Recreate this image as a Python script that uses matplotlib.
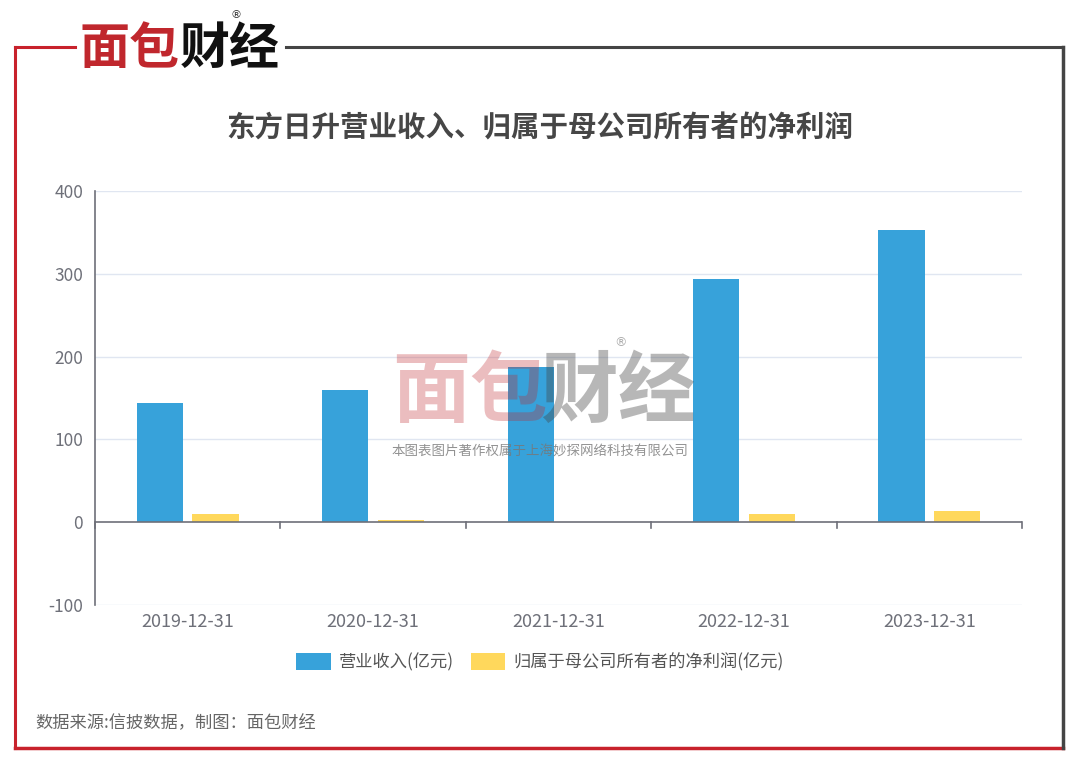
import matplotlib
matplotlib.use("Agg")
import matplotlib.pyplot as plt
import numpy as np
from matplotlib.lines import Line2D
from matplotlib.patches import Patch

plt.rcParams['font.family'] = ['Noto Sans CJK SC', 'DejaVu Sans']

categories = ["2019-12-31", "2020-12-31", "2021-12-31", "2022-12-31", "2023-12-31"]
revenue = [144, 160, 188, 294, 353]
net_profit = [10, 2.5, 0.3, 10, 14]
series_names = ["营业收入(亿元)", "归属于母公司所有者的净利润(亿元)"]
title = "东方日升营业收入、归属于母公司所有者的净利润"
yticks = [-100, 0, 100, 200, 300, 400]
source = "数据来源:信披数据，制图：面包财经"

W, H = 1080, 764
fig = plt.figure(figsize=(W / 100, H / 100), dpi=100)
fig.patch.set_facecolor("white")

def fx(x):
    return x / W

def fy(y):
    return 1 - y / H

# Frame
red = "#c8222c"
dark = "#444444"
fig.add_artist(Line2D([fx(15), fx(15)], [fy(47), fy(748)], color=red, lw=2.2))
fig.add_artist(Line2D([fx(15), fx(1063)], [fy(748), fy(748)], color=red, lw=2.5))
fig.add_artist(Line2D([fx(15), fx(75)], [fy(47), fy(47)], color=red, lw=2.2))
fig.add_artist(Line2D([fx(286), fx(1063)], [fy(47), fy(47)], color=dark, lw=2.2))
fig.add_artist(Line2D([fx(1063), fx(1063)], [fy(47), fy(748)], color=dark, lw=2.5))

# Logo
fig.text(fx(80), fy(49), "面包", color="#c0272d", fontsize=36, fontweight="bold",
         ha="left", va="center")
fig.text(fx(180), fy(49), "财经", color="#111111", fontsize=36, fontweight="bold",
         ha="left", va="center")
fig.text(fx(236), fy(15), "®", color="#333333", fontsize=8, ha="center", va="center",
         family=["DejaVu Sans"])

# Title
fig.text(0.5, fy(128), title, ha="center", va="center", fontsize=20.5,
         fontweight="bold", color="#464646")

# Axes
ax = fig.add_axes([fx(95), fy(605), fx(1022) - fx(95), (605 - 191) / H])
x = np.arange(len(categories))
bw = 0.25
ax.bar(x - 0.15, revenue, width=bw, color="#37a2da", zorder=3, label=series_names[0])
ax.bar(x + 0.15, net_profit, width=bw, color="#ffd85c", zorder=3, label=series_names[1])

ax.set_xlim(-0.5, len(categories) - 0.5)
ax.set_ylim(-100, 400)
ax.set_yticks(yticks)
ax.set_yticklabels([str(v) for v in yticks])
for v in yticks:
    if v != 0:
        ax.axhline(v, color="#e0e6f1", lw=1, zorder=1)
ax.axhline(0, color="#6e7079", lw=1.2, zorder=4)
for b in np.arange(-0.5, len(categories), 1.0):
    ax.plot([b, b], [0, -7], color="#6e7079", lw=1.2, zorder=4, clip_on=False)

for s in ["top", "right", "bottom"]:
    ax.spines[s].set_visible(False)
ax.spines["left"].set_color("#6e7079")
ax.spines["left"].set_linewidth(1.2)
ax.tick_params(axis="y", length=0, pad=8.5, labelsize=12.5, labelcolor="#6e7079")
ax.set_xticks(x)
ax.set_xticklabels(categories)
ax.tick_params(axis="x", length=0, pad=6, labelsize=13, labelcolor="#6e7079")
ax.set_facecolor("white")

# Legend
handles = [Patch(facecolor="#37a2da", edgecolor="none"),
           Patch(facecolor="#ffd85c", edgecolor="none")]
fig.legend(handles, series_names, loc="center", bbox_to_anchor=(0.5, fy(662)),
           ncol=2, frameon=False, fontsize=12.4, labelcolor="#555555",
           handlelength=2.0, handleheight=1.16, handletextpad=0.47, columnspacing=1.0)

# Source
fig.text(fx(35), fy(723), source, ha="left", va="center", fontsize=12.4, color="#666666")

# Watermark
fig.text(fx(392), fy(393), "面包", color="#c0272d", alpha=0.3, fontsize=56,
         fontweight="bold", ha="left", va="center", zorder=10)
fig.text(fx(540), fy(393), "财经", color="#444444", alpha=0.38, fontsize=56,
         fontweight="bold", ha="left", va="center", zorder=10)
fig.text(fx(620), fy(343), "®", color="#999999", alpha=0.8, fontsize=9,
         ha="center", va="center", family=["DejaVu Sans"], zorder=10)
fig.text(fx(540), fy(452), "本图表图片著作权属于上海妙探网络科技有限公司", color="#777777",
         alpha=0.8, fontsize=9.7, ha="center", va="center", zorder=10)

fig.savefig("out.png", dpi=100, facecolor="white")
